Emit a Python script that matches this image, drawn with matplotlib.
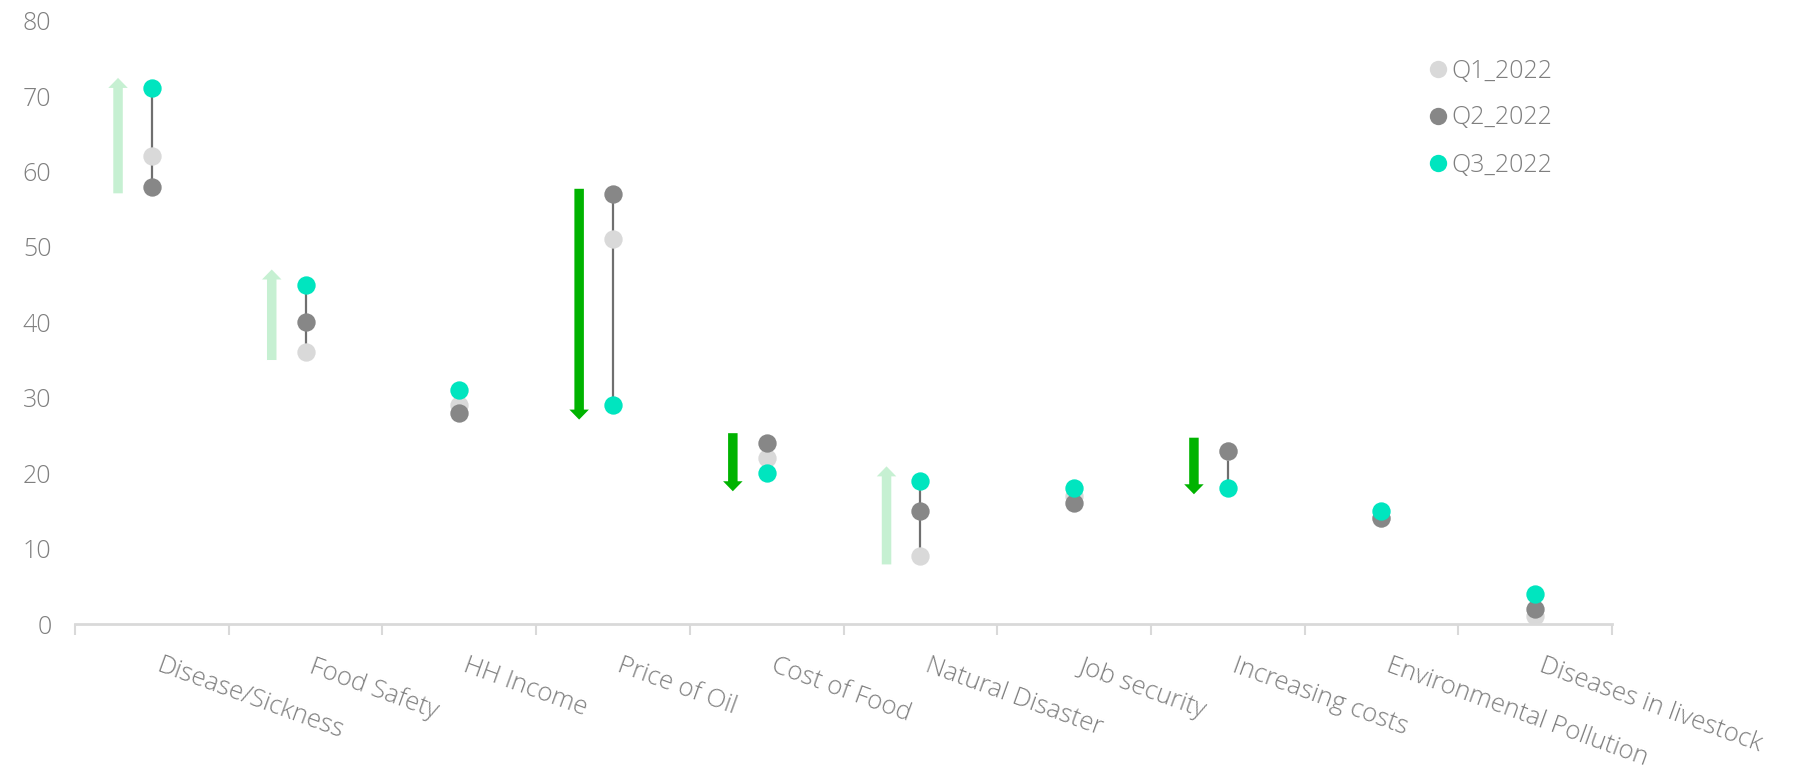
import matplotlib
matplotlib.use("Agg")
import matplotlib.pyplot as plt
from matplotlib.patches import FancyArrow
from matplotlib.lines import Line2D
import numpy as np

# --- data -------------------------------------------------------------
categories = ["Disease/Sickness", "Food Safety", "HH Income", "Price of Oil",
              "Cost of Food", "Natural Disaster", "Job security",
              "Increasing costs", "Environmental Pollution", "Diseases in livestock"]
q1_2022 = [62, 36, 29, 51, 22, 9, 17, 23, 14, 1]
q2_2022 = [58, 40, 28, 57, 24, 15, 16, 23, 14, 2]
q3_2022 = [71, 45, 31, 29, 20, 19, 18, 18, 15, 4]
series_labels = ["Q1_2022", "Q2_2022", "Q3_2022"]
y_ticks = [0, 10, 20, 30, 40, 50, 60, 70, 80]

# change arrows (tail value, tip value); None where no arrow is drawn
arrow_tail = [57.1, 35.0, None, 57.7, 25.3, 7.9, None, 24.7, None, None]
arrow_tip = [72.4, 47.0, None, 27.1, 17.6, 20.9, None, 17.2, None, None]

# --- style ------------------------------------------------------------
C_Q1, C_Q2, C_Q3 = "#d9d9d9", "#878787", "#00e5bf"
C_UP, C_DOWN = "#c6f0d2", "#00b300"
TEXT = "#7f7f7f"
FONT = "Open Sans"
WEIGHT = 300
FS = 18
FS_CAT = 18.5

W, H, DPI = 1793, 768, 100
fig = plt.figure(figsize=(W / DPI, H / DPI), dpi=DPI)
ax = fig.add_axes([75 / W, 1 - 624 / H, (1612 - 75) / W, (624 - 20.6) / H])

n = len(categories)
x = np.arange(n) + 0.5

q1 = np.array(q1_2022, float)
q2 = np.array(q2_2022, float)
q3 = np.array(q3_2022, float)
all_q = np.vstack([q1, q2, q3])

# range line connecting the quarters
ax.vlines(x, all_q.min(axis=0), all_q.max(axis=0), color="#6f6f6f", lw=1.6, zorder=1)

ms = 13.2
ax.plot(x, q1, "o", ms=ms, color=C_Q1, mec="none", zorder=2, label=series_labels[0])
ax.plot(x, q2, "o", ms=ms, color=C_Q2, mec="none", zorder=3, label=series_labels[1])
ax.plot(x, q3, "o", ms=ms, color=C_Q3, mec="none", zorder=4, label=series_labels[2])

ax.set_xlim(0, n)
ax.set_ylim(0, 80)
units_per_px = 80 / (624 - 20.6)
cat_per_px = n / (1612 - 75)
for i in range(n):
    if arrow_tail[i] is None:
        continue
    tail, tip = arrow_tail[i], arrow_tip[i]
    col = C_UP if tip > tail else C_DOWN
    ax.add_patch(FancyArrow(x[i] - 0.22, tail, 0, tip - tail,
                            width=9.5 * cat_per_px, head_width=19.5 * cat_per_px,
                            head_length=10 * units_per_px, length_includes_head=True,
                            color=col, lw=0, zorder=1))

# axes styling
for s in ["left", "top", "right"]:
    ax.spines[s].set_visible(False)
ax.spines["bottom"].set_color("#d9d9d9")
ax.spines["bottom"].set_linewidth(2)
ax.set_xticks(np.arange(n + 1))
ax.set_xticklabels([])
ax.tick_params(axis="x", length=8, width=1.5, color="#d9d9d9", direction="out")
ax.set_yticks(y_ticks)
ax.set_yticklabels([str(v) for v in y_ticks], fontsize=FS, color=TEXT,
                   family=FONT, fontweight=WEIGHT)
ax.tick_params(axis="y", length=0, pad=17)

for xi, lab in zip(x, categories):
    ax.annotate(lab, xy=(xi, 0), xycoords="data", xytext=(7, -21),
                textcoords="offset points", rotation=-20, rotation_mode="anchor",
                ha="left", va="top", fontsize=FS_CAT, color=TEXT,
                family=FONT, fontweight=WEIGHT, annotation_clip=False)

handles = [Line2D([], [], ls="none", marker="o", ms=12.5, color=c, mec="none")
           for c in (C_Q1, C_Q2, C_Q3)]
leg = fig.legend(handles, series_labels, loc="upper left",
                 bbox_to_anchor=(1408 / W, 1 - 36 / H), frameon=False,
                 handlelength=0.6, handletextpad=0.25, labelspacing=0.88,
                 prop={"family": FONT, "weight": WEIGHT, "size": FS})
for t in leg.get_texts():
    t.set_color(TEXT)

fig.savefig("out.png", dpi=DPI)
